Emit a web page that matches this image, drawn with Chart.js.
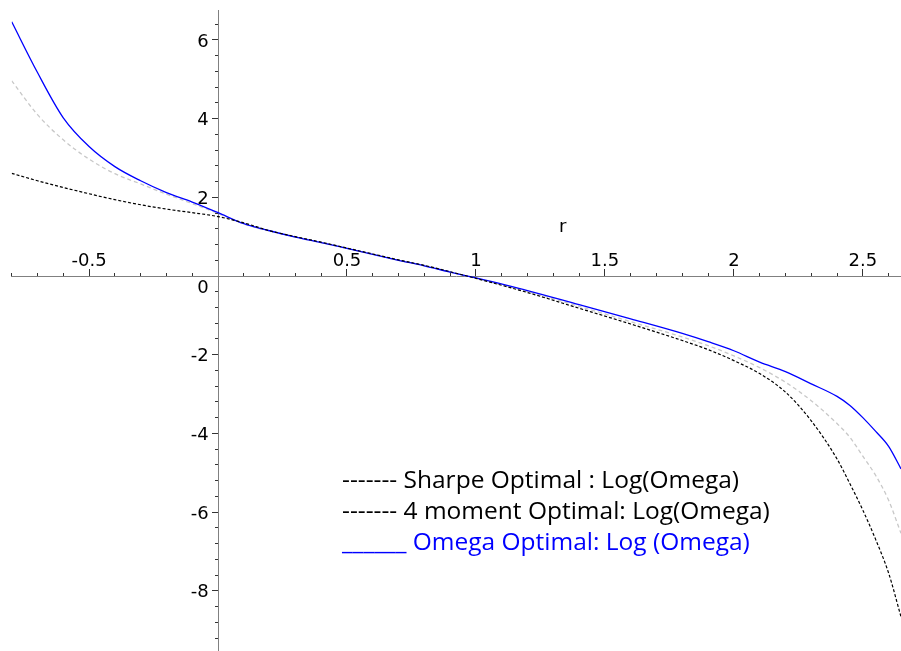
<!DOCTYPE html>
<html>
<head>
<meta charset="utf-8">
<script src="https://cdn.jsdelivr.net/npm/chart.js@4.4.1/dist/chart.umd.min.js"></script>
<style>
  html, body { margin: 0; padding: 0; background: #fff; overflow: hidden; }
  #wrap { position: relative; width: 901px; height: 651px; }
  .legend-line {
    position: absolute; left: 342px; font-family: "Open Sans", sans-serif;
    font-size: 24.5px; line-height: 31px; white-space: pre; color: #000;
  }
  #axis-r {
    position: absolute; left: 559px; top: 217px; font-family: "DejaVu Sans", sans-serif;
    font-size: 18px; line-height: 18px; color: #000;
  }
</style>
</head>
<body>
<div id="wrap">
  <canvas id="plot"></canvas>
  <div id="axis-r">r</div>
  <div class="legend-line" style="top:463px">------- Sharpe Optimal : Log(Omega)</div>
  <div class="legend-line" style="top:494px">------- 4 moment Optimal: Log(Omega)</div>
  <div class="legend-line" style="top:525px; color:#0000ff">______ Omega Optimal: Log (Omega)</div>
</div>
<script>
// r values (x) shared by the three curves
var rValues = [-0.8, -0.7, -0.6, -0.5, -0.4, -0.3, -0.2, -0.1, 0, 0.1, 0.2, 0.3, 0.4, 0.5, 0.6, 0.7, 0.8, 0.9, 1.0,
    1.2, 1.4, 1.6, 1.8, 1.9, 2.0, 2.1, 2.2, 2.3, 2.4, 2.45, 2.5, 2.55, 2.6, 2.648];
// Log(Omega) for each portfolio
var sharpeLog = [4.96, 4.10, 3.46, 2.97, 2.60, 2.34, 2.08, 1.84, 1.59, 1.32, 1.14, 0.99, 0.85, 0.70, 0.55, 0.40, 0.26, 0.10, -0.06,
    -0.40, -0.77, -1.16, -1.55, -1.77, -2.03, -2.33, -2.70, -3.17, -3.75, -4.10, -4.58, -5.07, -5.70, -6.54];
var fourMomentLog = [2.61, 2.42, 2.25, 2.09, 1.94, 1.81, 1.70, 1.61, 1.51, 1.35, 1.15, 1.00, 0.86, 0.71, 0.56, 0.41, 0.27, 0.11, -0.06,
    -0.42, -0.82, -1.22, -1.64, -1.87, -2.15, -2.48, -2.95, -3.68, -4.65, -5.28, -5.95, -6.70, -7.55, -8.66];
var omegaLog = [6.46, 5.17, 4.02, 3.29, 2.78, 2.42, 2.12, 1.88, 1.61, 1.33, 1.15, 0.99, 0.85, 0.70, 0.55, 0.40, 0.26, 0.10, -0.05,
    -0.37, -0.73, -1.09, -1.46, -1.67, -1.90, -2.19, -2.43, -2.74, -3.06, -3.29, -3.60, -3.95, -4.33, -4.90];

// axis ranges and tick steps (minor / labelled)
var xRange = [-0.8, 2.648];
var yRange = [-9.53, 6.76];
var xStep = 0.1;
var yStep = 0.4;
var xMajor = 0.5;
var yMajor = 2;

function toPoints(ys) {
    var pts = [];
    for (var i = 0; i < rValues.length; i++) {
        pts.push({x: rValues[i], y: ys[i]});
    }
    return pts;
}

function isMultiple(v, m) {
    var q = v / m;
    return Math.abs(q - Math.round(q)) < 1e-6;
}

// axes sit inside the plot, so they should not eat any layout space
function noSpace(scale) {
    if (scale.isHorizontal()) scale.height = 0;
    else scale.width = 0;
    scale.paddingTop = 0;
    scale.paddingBottom = 0;
    scale.paddingLeft = 0;
    scale.paddingRight = 0;
}

Chart.defaults.font.family = '"DejaVu Sans", sans-serif';
Chart.defaults.font.size = 18;
Chart.defaults.color = '#000';

var ctx = document.getElementById('plot').getContext('2d');
var chart = new Chart(ctx, {
    type: 'scatter',
    data: {
        datasets: [{
            label: '4 moment Optimal: Log(Omega)',
            data: toPoints(fourMomentLog),
            showLine: true,
            borderColor: '#000000',
            borderWidth: 1.2,
            borderDash: [3, 2],
            pointRadius: 0,
            cubicInterpolationMode: 'monotone'
        }, {
            label: 'Omega Optimal: Log (Omega)',
            data: toPoints(omegaLog),
            showLine: true,
            borderColor: '#0000ff',
            borderWidth: 1.3,
            pointRadius: 0,
            cubicInterpolationMode: 'monotone'
        }, {
            label: 'Sharpe Optimal : Log(Omega)',
            data: toPoints(sharpeLog),
            showLine: true,
            borderColor: '#c8c8c8',
            borderWidth: 1.3,
            borderDash: [4, 3],
            pointRadius: 0,
            cubicInterpolationMode: 'monotone'
        }]
    },
    options: {
        responsive: true,
        maintainAspectRatio: false,
        animation: false,
        layout: {
            autoPadding: false,
            padding: {left: 11.7, top: 10, right: 0, bottom: 0}
        },
        plugins: {
            legend: {display: false},
            tooltip: {enabled: false}
        },
        scales: {
            x: {
                type: 'linear',
                position: {y: 0},
                min: xRange[0],
                max: xRange[1],
                afterFit: noSpace,
                border: {display: true, color: '#808080', width: 1},
                grid: {drawOnChartArea: false, drawTicks: true, tickLength: -4, tickColor: '#333'},
                ticks: {
                    stepSize: xStep,
                    autoSkip: false,
                    maxRotation: 0,
                    includeBounds: false,
                    padding: -21,
                    callback: function (v) {
                        if (Math.abs(v) < 1e-9) return '';
                        if (!isMultiple(v, xMajor)) return '';
                        return String(Math.round(v * 10) / 10);
                    }
                }
            },
            // longer marks at the labelled x ticks
            xMajor: {
                type: 'linear',
                axis: 'x',
                position: {y: 0},
                min: xRange[0],
                max: xRange[1],
                afterFit: noSpace,
                border: {display: false},
                grid: {drawOnChartArea: false, drawTicks: true, tickLength: -7, tickColor: '#333'},
                ticks: {stepSize: xMajor, autoSkip: false, includeBounds: false, display: false}
            },
            y: {
                type: 'linear',
                position: {x: 0},
                min: yRange[0],
                max: yRange[1],
                afterFit: noSpace,
                border: {display: true, color: '#808080', width: 1},
                grid: {drawOnChartArea: false, drawTicks: true, tickLength: 3, tickColor: '#333'},
                ticks: {
                    stepSize: yStep,
                    autoSkip: false,
                    includeBounds: false,
                    labelOffset: 2,
                    callback: function (v) {
                        if (!isMultiple(v, yMajor)) return '';
                        var n = Math.round(v);
                        // trailing spaces keep the right-aligned label clear of the axis
                        if (n === 0) return ['', '0 \u2009'];
                        return String(n) + ' \u2009';
                    }
                }
            },
            // longer marks at the labelled y ticks
            yMajor: {
                type: 'linear',
                axis: 'y',
                position: {x: 0},
                min: yRange[0],
                max: yRange[1],
                afterFit: noSpace,
                border: {display: false},
                grid: {drawOnChartArea: false, drawTicks: true, tickLength: 6, tickColor: '#333'},
                ticks: {stepSize: yMajor, autoSkip: false, includeBounds: false, display: false}
            }
        }
    }
});
</script>
</body>
</html>
